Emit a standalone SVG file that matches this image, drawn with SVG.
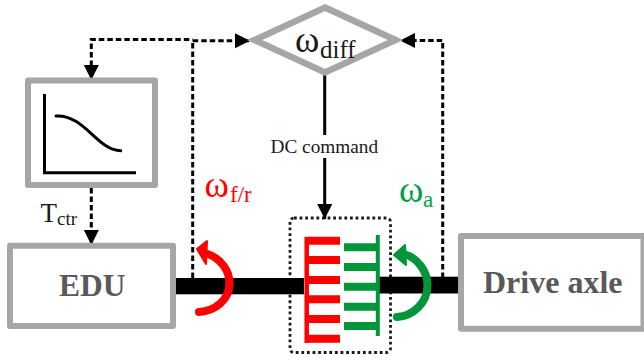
<svg xmlns="http://www.w3.org/2000/svg" width="644" height="361" viewBox="0 0 644 361">
<defs>
<style>
.box{fill:#fff;stroke:#a6a6a6;stroke-width:6;stroke-linejoin:round}
.dash{fill:none;stroke:#000;stroke-width:3;stroke-dasharray:5.5 3}
.dot{fill:none;stroke:#1a1a1a;stroke-width:2.8;stroke-dasharray:2.8 2.8}
.t{font-family:"Liberation Serif","Times New Roman",serif}
.b{font-weight:bold;fill:#595959}
</style>
<marker id="ah" markerUnits="userSpaceOnUse" markerWidth="16" markerHeight="16" refX="15" refY="7.500" orient="auto"><path d="M0 0L15 7.500L0 15Z" fill="#000"/></marker>
</defs>
<g id="clutch-frame"><rect x="290" y="218" width="100.500" height="134.500" rx="4" class="dot"/></g>
<g id="connectors">
<path class="dash" d="M192.700 278V41"/>
<path class="dash" d="M91.300 66V39.500H192.700"/>
<path class="dash" d="M91.300 68V80" marker-end="url(#ah)"/>
<path class="dash" d="M192.700 40.700H250" marker-end="url(#ah)"/>
<path class="dash" d="M91.300 188V245" marker-end="url(#ah)"/>
<path class="dash" d="M442.700 278V40.500H400" marker-end="url(#ah)"/>
<path d="M324.700 72V135" stroke="#000" stroke-width="3" fill="none"/>
<path d="M324.700 158V219" stroke="#000" stroke-width="3" fill="none" marker-end="url(#ah)"/>
</g>
<g id="shaft">
<rect x="176" y="278" width="128" height="16.300" fill="#000"/>
<rect x="377" y="276.700" width="82" height="16.800" fill="#000"/>
</g>
<g id="node-diff">
<path d="M325 7.500L395.500 40L325 72.500L254.500 40Z" fill="#fff" stroke="#a6a6a6" stroke-width="6.500"/>
<text class="t" x="295" y="52" font-size="37" fill="#1a1a1a">ω<tspan x="320" y="58" font-size="25">diff</tspan></text>
</g>
<g id="node-map">
<rect x="28" y="80.500" width="127" height="104.500" class="box"/>
<path d="M44.500 94V172.700H136" fill="none" stroke="#000" stroke-width="3"/>
<path d="M56 116C84 114 98 151 120.700 150.700" fill="none" stroke="#000" stroke-width="3" stroke-linecap="round"/>
</g>
<g id="node-edu">
<rect x="10" y="245.700" width="163" height="80.300" class="box"/>
<text class="t b" x="59" y="296" font-size="31.500">EDU</text>
</g>
<g id="node-axle">
<rect x="461" y="236" width="182.500" height="92.700" class="box"/>
<text class="t b" x="483" y="292.700" font-size="32">Drive axle</text>
</g>
<g id="clutch">
<path d="M306.700 237V343" fill="none" stroke="#f00" stroke-width="4.500"/>
<path d="M305 240.700H340M305 260H340M305 280H340M305 299.300H340M305 319H340M305 338.700H340" fill="none" stroke="#f00" stroke-width="8"/>
<path d="M377.800 235V336" fill="none" stroke="#009639" stroke-width="4"/>
<path d="M344 247.300H378M344 267H378M344 286.700H378M344 306.700H378M344 326H378" fill="none" stroke="#009639" stroke-width="8"/>
</g>
<g id="arrows">
<path d="M205 253C222 258 229.500 272 229.500 283C229.500 300 215 311 199 312" fill="none" stroke="#f00" stroke-width="8" stroke-linecap="round"/>
<path d="M197 249L207 241L206 264Z" fill="#f00" stroke="#f00" stroke-width="2" stroke-linejoin="round"/>
<path d="M404 254C418 258 427.500 272 427.500 285C427.500 303 413 316 397 317" fill="none" stroke="#009639" stroke-width="8" stroke-linecap="round"/>
<path d="M394 255L405 245L406 265Z" fill="#009639" stroke="#009639" stroke-width="2" stroke-linejoin="round"/>
</g>
<g id="labels">
<text class="t" x="270.500" y="153" font-size="19.300" fill="#1a1a1a">DC command</text>
<text class="t" x="40.500" y="221.700" font-size="27" fill="#1a1a1a">T<tspan x="57" y="225" font-size="19">ctr</tspan></text>
<text class="t" x="204.500" y="197" font-size="37" fill="#f00">ω<tspan x="230" y="202" font-size="23">f/r</tspan></text>
<text class="t" x="399" y="202.300" font-size="37" fill="#00a04a">ω<tspan x="423" y="207.300" font-size="23">a</tspan></text>
</g>
</svg>
